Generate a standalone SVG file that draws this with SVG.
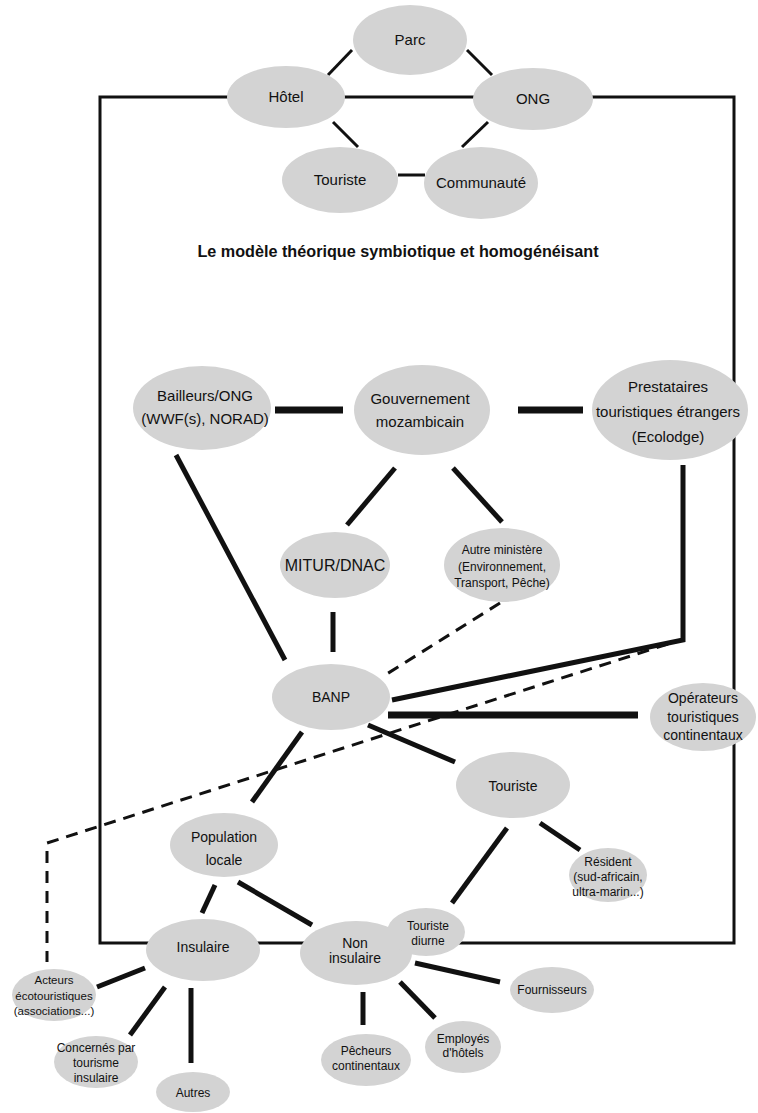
<svg xmlns="http://www.w3.org/2000/svg" width="758" height="1113" viewBox="0 0 758 1113">
  <style>
    .n ellipse { fill: #d3d3d3; }
    text { font-family: "Liberation Sans", Arial, sans-serif; fill: #111111; text-anchor: middle; }
    .t15 { font-size: 15px; }
    .t14 { font-size: 14px; }
    .t12 { font-size: 12px; }
    .t11 { font-size: 11.5px; }
    .title { font-size: 16.2px; font-weight: bold; }
    .c line, .c polyline, .c path { stroke: #111; fill: none; }
    .thin { stroke-width: 3; }
    .mid { stroke-width: 5; }
    .thick { stroke-width: 7; }
    .dash { stroke-width: 3; stroke-dasharray: 12 8; }
  </style>
  <rect width="758" height="1113" fill="#ffffff"/>

  <!-- connectors -->
  <g id="connectors" class="c">
    <!-- frame linking the theoretical model to the field model -->
    <path class="thin" d="M100,943 V97 H734 V943 Z"/>
    <!-- theoretical model -->
    <line class="thin" x1="328" y1="75" x2="352" y2="50"/>
    <line class="thin" x1="467" y1="50" x2="492" y2="75"/>
    <line class="thin" x1="333" y1="122" x2="358" y2="147"/>
    <line class="thin" x1="488" y1="122" x2="462" y2="147"/>
    <line class="thin" stroke-width="3.5" x1="398" y1="175" x2="425" y2="175"/>
    <!-- institutional row -->
    <line class="thick" x1="275" y1="410" x2="343" y2="410"/>
    <line class="thick" x1="518" y1="410" x2="583" y2="410"/>
    <polyline class="mid" stroke-width="6" points="683,465 683,640 392,700"/>
    <line class="thick" x1="388" y1="715" x2="638" y2="715"/>
    <line class="mid" x1="395" y1="468" x2="347" y2="525"/>
    <line class="mid" x1="453" y1="468" x2="502" y2="522"/>
    <line class="mid" x1="333" y1="612" x2="333" y2="652"/>
    <line class="mid" x1="176" y1="455" x2="285" y2="660"/>
    <!-- BANP and below -->
    <line class="mid" x1="368" y1="725" x2="455" y2="762"/>
    <line class="mid" x1="302" y1="732" x2="252" y2="802"/>
    <line class="mid" x1="540" y1="823" x2="580" y2="850"/>
    <line class="mid" x1="507" y1="828" x2="452" y2="903"/>
    <line class="mid" x1="215" y1="885" x2="202" y2="913"/>
    <line class="mid" x1="238" y1="882" x2="312" y2="925"/>
    <line class="mid" stroke-width="6" x1="415" y1="963" x2="500" y2="982"/>
    <line class="mid" x1="400" y1="982" x2="435" y2="1018"/>
    <line class="mid" x1="363" y1="992" x2="363" y2="1025"/>
    <line class="mid" stroke-width="6" x1="145" y1="968" x2="97" y2="987"/>
    <line class="mid" x1="165" y1="987" x2="130" y2="1035"/>
    <line class="mid" x1="191" y1="988" x2="191" y2="1063"/>
    <!-- dashed links -->
    <line class="dash" x1="500" y1="603" x2="382" y2="677"/>
    <polyline class="dash" points="668,644 47,843 47,962"/>
  </g>

  <!-- theoretical model nodes -->
  <g id="parc" class="n"><ellipse cx="410" cy="40" rx="57" ry="35"/><text class="t15" x="410" y="45">Parc</text></g>
  <g id="hotel" class="n"><ellipse cx="286" cy="97" rx="59" ry="31"/><text class="t15" x="286" y="102">Hôtel</text></g>
  <g id="ong" class="n"><ellipse cx="533" cy="99" rx="60" ry="31"/><text class="t15" x="533" y="104">ONG</text></g>
  <g id="touriste-theo" class="n"><ellipse cx="340" cy="180" rx="58" ry="33"/><text class="t15" x="340" y="185">Touriste</text></g>
  <g id="communaute" class="n"><ellipse cx="481" cy="183" rx="57" ry="36"/><text class="t15" x="481" y="188">Communauté</text></g>

  <text id="title" class="title" x="398" y="257">Le modèle théorique symbiotique et homogénéisant</text>

  <!-- field model nodes -->
  <g id="bailleurs" class="n"><ellipse cx="202" cy="408" rx="69" ry="42"/>
    <text class="t15" x="205" y="401">Bailleurs/ONG</text><text class="t15" x="205" y="424">(WWF(s), NORAD)</text></g>
  <g id="gouvernement" class="n"><ellipse cx="422" cy="410" rx="68" ry="45"/>
    <text class="t15" x="420" y="404">Gouvernement</text><text class="t15" x="420" y="427">mozambicain</text></g>
  <g id="prestataires" class="n"><ellipse cx="670" cy="410" rx="78" ry="50"/>
    <text class="t15" x="668" y="392">Prestataires</text><text class="t15" x="668" y="417">touristiques étrangers</text><text class="t15" x="668" y="442">(Ecolodge)</text></g>
  <g id="mitur" class="n"><ellipse cx="335" cy="565" rx="55" ry="33"/><text x="335" y="571" font-size="16">MITUR/DNAC</text></g>
  <g id="autre-ministere" class="n"><ellipse cx="502" cy="565" rx="58" ry="37"/>
    <text class="t12" x="502" y="554">Autre ministère</text><text class="t12" x="502" y="571">(Environnement,</text><text class="t12" x="502" y="587">Transport, Pêche)</text></g>
  <g id="banp" class="n"><ellipse cx="331" cy="697" rx="59" ry="33"/><text class="t14" x="331" y="702">BANP</text></g>
  <g id="operateurs" class="n"><ellipse cx="703" cy="717" rx="53" ry="34"/>
    <text class="t14" x="703" y="703">Opérateurs</text><text class="t14" x="703" y="722">touristiques</text><text class="t14" x="703" y="740">continentaux</text></g>
  <g id="touriste" class="n"><ellipse cx="513" cy="785" rx="57" ry="33"/><text class="t14" x="513" y="791">Touriste</text></g>
  <g id="resident" class="n"><ellipse cx="608" cy="875" rx="39" ry="27"/>
    <text class="t12" x="608" y="866">Résident</text><text class="t12" x="608" y="881">(sud-africain,</text><text class="t12" x="608" y="896">ultra-marin...)</text></g>
  <g id="population" class="n"><ellipse cx="224" cy="845" rx="54" ry="32"/>
    <text class="t14" x="224" y="842">Population</text><text class="t14" x="224" y="865">locale</text></g>
  <g id="insulaire" class="n"><ellipse cx="203" cy="950" rx="57" ry="31"/><text class="t14" x="203" y="952">Insulaire</text></g>
  <g id="non-insulaire" class="n"><ellipse cx="356" cy="953" rx="56" ry="32"/>
    <text class="t14" x="355" y="948">Non</text><text class="t14" x="355" y="963">insulaire</text></g>
  <g id="touriste-diurne" class="n"><ellipse cx="426" cy="932" rx="39" ry="24"/>
    <text class="t12" x="428" y="930">Touriste</text><text class="t12" x="428" y="945">diurne</text></g>
  <g id="fournisseurs" class="n"><ellipse cx="552" cy="990" rx="42" ry="23"/><text class="t12" x="552" y="994">Fournisseurs</text></g>
  <g id="employes" class="n"><ellipse cx="463" cy="1047" rx="38" ry="26"/>
    <text class="t12" x="463" y="1043">Employés</text><text class="t12" x="463" y="1057">d'hôtels</text></g>
  <g id="pecheurs" class="n"><ellipse cx="366" cy="1060" rx="45" ry="26"/>
    <text class="t12" x="366" y="1055">Pêcheurs</text><text class="t12" x="366" y="1070">continentaux</text></g>
  <g id="acteurs" class="n"><ellipse cx="54" cy="995" rx="42" ry="26"/>
    <text class="t11" x="54" y="984">Acteurs</text><text class="t11" x="54" y="1000">écotouristiques</text><text class="t11" x="54" y="1015">(associations...)</text></g>
  <g id="concernes" class="n"><ellipse cx="96" cy="1062" rx="42" ry="26"/>
    <text class="t12" x="96" y="1052">Concernés par</text><text class="t12" x="96" y="1067">tourisme</text><text class="t12" x="96" y="1082">insulaire</text></g>
  <g id="autres" class="n"><ellipse cx="193" cy="1092" rx="37" ry="20"/><text class="t12" x="193" y="1097">Autres</text></g>
</svg>
